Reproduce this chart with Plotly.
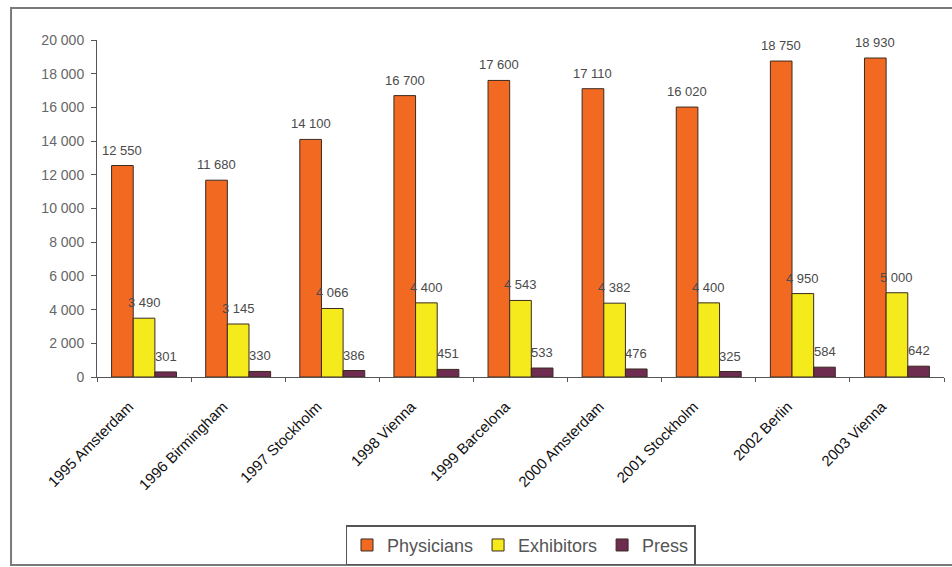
import plotly.graph_objects as go

categories = ["1995 Amsterdam", "1996 Birmingham", "1997 Stockholm", "1998 Vienna",
              "1999 Barcelona", "2000 Amsterdam", "2001 Stockholm", "2002 Berlin", "2003 Vienna"]
physicians = [12550, 11680, 14100, 16700, 17600, 17110, 16020, 18750, 18930]
exhibitors = [3490, 3145, 4066, 4400, 4543, 4382, 4400, 4950, 5000]
press = [301, 330, 386, 451, 533, 476, 325, 584, 642]

series = [
    ("Physicians", physicians, "#F26A22"),
    ("Exhibitors", exhibitors, "#F4EA1C"),
    ("Press", press, "#6E2D50"),
]

def fmt(v):
    return f"{v:,}".replace(",", " ")

fig = go.Figure()
for name, vals, color in series:
    fig.add_trace(go.Bar(
        x=categories, y=vals, name=name,
        marker=dict(color=color, line=dict(color="#3a2a20", width=1)),
    ))

bar_px = 21.7
shifts = [-bar_px, 0, bar_px]
for (name, vals, color), sh in zip(series, shifts):
    for c, v in zip(categories, vals):
        fig.add_annotation(
            x=c, y=v, text=fmt(v), showarrow=False, xref="x", yref="y",
            xshift=sh, yshift=6, yanchor="bottom",
            font=dict(family="Arial, Liberation Sans, sans-serif", size=13, color="#4a4a4a"),
        )

fig.add_shape(type="rect", xref="paper", yref="paper",
              x0=-0.1015, x1=1.03, y0=-0.558, y1=1.095,
              line=dict(color="#7a7a7a", width=2), layer="below")

fig.update_layout(
    width=952, height=567,
    margin=dict(l=97, r=8, t=40, b=190, autoexpand=False),
    paper_bgcolor="white", plot_bgcolor="white",
    barmode="group", bargap=0.31, bargroupgap=0,
    separators=", ",
    showlegend=True,
    legend=dict(orientation="h", x=0.5, xanchor="center", y=-0.44, yanchor="top",
                bordercolor="#555555", borderwidth=1.5, itemwidth=30,
                font=dict(family="Arial, Liberation Sans, sans-serif", size=18, color="#555555"),
                traceorder="normal"),
    xaxis=dict(
        automargin=False,
        showline=True, linecolor="#555555", linewidth=1,
        ticks="outside", tickson="boundaries", ticklen=4, tickcolor="#555555",
        tickangle=-45, showgrid=False,
        ticklabelshift=-15, ticklabelstandoff=14,
        tickfont=dict(family="Liberation Sans, Arial, sans-serif",
                      size=15, color="#111111"),
    ),
    yaxis=dict(
        automargin=False,
        range=[0, 20000], dtick=2000, tickformat=",d",
        showline=True, linecolor="#555555", linewidth=1,
        ticks="outside", ticklen=5, tickcolor="#555555",
        showgrid=False, zeroline=False, ticklabelstandoff=4,
        tickfont=dict(family="Arial, Liberation Sans, sans-serif", size=14, color="#666666"),
    ),
)

fig.write_html("out.html")
